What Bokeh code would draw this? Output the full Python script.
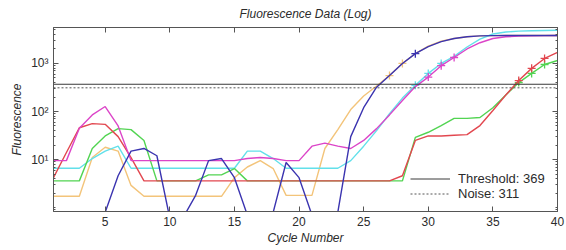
from bokeh.plotting import figure
from bokeh.models import (LogAxis, LinearAxis, FixedTicker, Legend, LegendItem,
                          ColumnDataSource, Range1d)
from bokeh.embed import file_html
from bokeh.resources import INLINE

# ---------------- data ----------------
cycles = list(range(1, 41))

tan = [1.72, 1.72, 1.72, 11, 18, 15, 2.9, 1.72,
       1.72, 1.72, 1.72, 1.72, 1.72, 1.72,
       4.2, 7, 9.5, 6.5,
       1.8, 1.8, 1.8,
       17, 42, 110, 210, 340, 560, 1000, 1600, 2300, 2900, 3300, 3600, 3750, 3800,
       3830, 3830, 3830, 3830, 3830]

cyan = [6.6, 6.6, 6.6, 10.5, 15, 19, 6.6,
        6.6, 6.6, 6.6, 6.6, 6.6, 6.6, 6.6, 6.6,
        15, 15, 10.5,
        6.6, 6.6, 6.6, 6.6, 6.6,
        9.5, 19, 40, 90, 190, 350, 620, 1000, 1400, 2200, 3200, 4100, 4500,
        4700, 4800, 4850, 4900]

green = [3.6, 3.6, 3.6, 17, 31, 44, 42, 25, 3.6, 3.6, 3.6, 3.6, 4.8, 4.8, 6.5, 3.6,
         3.6, 3.6, 3.6, 3.6, 3.6, 3.6, 3.6, 3.6, 3.6, 3.6, 3.6, 3.6,
         29, 37, 51, 72, 72, 75, 120, 220, 400, 620, 950, 1150]

red = [4.2, 14, 46, 56, 54, 30, 11, 3.6,
       3.6, 3.6, 3.6, 3.6, 3.6, 3.6, 3.6, 3.6, 3.6, 3.6,
       3.6, 3.6, 3.6, 3.6, 3.6, 3.6, 3.6, 3.6, 3.6,
       4.6, 25, 31, 31, 32, 33, 51, 105, 220, 440, 790, 1270, 1700]

magenta = [9.5, 9.5, 45, 85, 127, 50, 9.5,
           9.5, 9.5, 9.5, 9.5, 9.5, 9.5, 9.5, 9.5,
           10.5, 11, 10.5, 9.5, 9.5,
           19, 22, 19, 17, 25, 44, 85, 170, 330, 520, 900, 1330,
           2000, 2700, 3300, 3600, 3700, 3750, 3800, 3830]

navy = [0.1, 0.1, 0.1, 0.2, 0.8,
        4.6, 15, 17, 12,
        0.6, 0.6, 1.8, 9.5, 10.5, 4.2,
        0.7, 0.3, 0.8, 8.7, 4.2, 0.7, 0.3, 0.8,
        30, 120, 320, 560, 1000, 1600, 2250, 2850, 3300, 3600, 3750, 3800,
        3830, 3830, 3830, 3830, 3830]

# cycles marked with "+" (fit points) per series
tan_marks = [27, 28]
navy_marks = [29]
cyan_marks = [29, 30, 31]
magenta_marks = [30, 31, 32]
red_marks = [37, 38, 39]
green_marks = [37, 38, 39]

threshold = 369
noise = 311

x_ticks = [5, 10, 15, 20, 25, 30, 35, 40]
y_ticks = [10, 100, 1000]
y_tick_labels = {10: "10\u00b9", 100: "10\u00b2", 1000: "10\u00b3"}

series = [
    (tan, tan_marks, "#f3c47a"),
    (cyan, cyan_marks, "#62e0ea"),
    (green, green_marks, "#52d452"),
    (red, red_marks, "#e2474f"),
    (magenta, magenta_marks, "#dc45c8"),
    (navy, navy_marks, "#3b34b0"),
]

TXT = "#2b2b2b"
FONT = "Liberation Sans"

p = figure(width=566, height=250, output_backend="svg", toolbar_location=None,
           y_axis_type="log", x_range=Range1d(1, 40), y_range=Range1d(0.83, 5600),
           min_border_left=53, min_border_right=9, min_border_top=27, min_border_bottom=39,
           background_fill_color="white", border_fill_color="white")

p.title.text = "Fluorescence Data (Log)"
p.title.align = "center"
p.title.vertical_align = "top"
p.title.text_font = FONT
p.title.text_font_style = "italic"
p.title.text_font_size = "12px"
p.title.text_color = TXT

p.grid.visible = False
p.outline_line_color = "#555555"

minor_y = [k * 10 ** e for e in range(-1, 4) for k in range(1, 10) if not (k == 1 and e >= 1)]
yticker = FixedTicker(ticks=y_ticks, minor_ticks=minor_y)
xticker = FixedTicker(ticks=x_ticks)


def style_axis(ax, labels=True):
    ax.axis_line_color = "#555555"
    ax.major_tick_line_color = "#555555"
    ax.minor_tick_line_color = "#555555"
    ax.major_tick_in = 5
    ax.major_tick_out = 0
    ax.minor_tick_in = 2
    ax.minor_tick_out = 0
    ax.major_label_text_font = FONT
    ax.major_label_text_color = TXT
    ax.axis_label_text_font = FONT
    ax.axis_label_text_font_style = "italic"
    ax.axis_label_text_font_size = "12px"
    ax.axis_label_text_color = TXT
    if labels:
        ax.major_label_text_font_size = "12px"
        ax.major_label_standoff = 5
    else:
        ax.major_label_text_font_size = "1px"
        ax.major_label_text_alpha = 0
        ax.major_label_standoff = 0


xa = p.xaxis[0]
xa.ticker = xticker
style_axis(xa)
xa.minor_tick_line_color = None
xa.axis_label = "Cycle Number"
xa.axis_label_standoff = 2

ya = p.yaxis[0]
ya.ticker = yticker
style_axis(ya)
ya.major_label_overrides = y_tick_labels
ya.axis_label = "Fluorescence"
ya.axis_label_standoff = 4

top = LinearAxis(ticker=xticker)
style_axis(top, labels=False)
top.minor_tick_line_color = None
p.add_layout(top, "above")

right = LogAxis(ticker=yticker)
style_axis(right, labels=False)
p.add_layout(right, "right")

for vals, marks, col in series:
    src = ColumnDataSource(dict(x=cycles, y=vals))
    p.line("x", "y", source=src, line_color=col, line_width=1.4)
    my = [vals[cycles.index(c)] for c in marks]
    p.scatter(marks, my, marker="cross", size=8, line_color=col, line_width=1.3)

x_span = [cycles[0], cycles[-1]]
r_th = p.line(x_span, [threshold, threshold], line_color="#3a3a3a", line_width=1)
r_no = p.line(x_span, [noise, noise], line_color="#555555", line_width=1, line_dash="2 2")

legend = Legend(items=[LegendItem(label=f"Threshold: {threshold}", renderers=[r_th]),
                       LegendItem(label=f"Noise: {noise}", renderers=[r_no])],
                location=(357, 10), border_line_color=None, background_fill_alpha=0,
                padding=0, margin=0, spacing=0, glyph_width=40, glyph_height=15,
                label_height=15, label_standoff=8, label_text_font=FONT,
                label_text_font_size="13px", label_text_color=TXT)
p.add_layout(legend)

open("out.html", "w").write(file_html(p, INLINE))
